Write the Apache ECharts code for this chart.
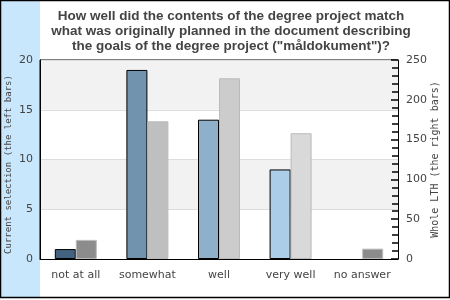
<!DOCTYPE html>
<html><head><meta charset="utf-8">
<script src="https://cdn.jsdelivr.net/npm/echarts@6/dist/echarts.min.js"></script>
<style>html,body{margin:0;padding:0;background:#fff}#c{width:450px;height:300px}</style>
</head><body><div id="c"></div>
<script>
const categories = ['not at all', 'somewhat', 'well', 'very well', 'no answer'];
const currentSelection = [1, 19, 14, 9, 0];
const wholeLTH = [24, 173, 227, 158, 13];
const leftTicks = [0, 5, 10, 15, 20];
const rightTicks = [0, 50, 100, 150, 200, 250];

const leftColors = ['#43627f', '#7293ae', '#8fb0cb', '#abcde8', '#c6dcef'];
const rightColors = ['#8c8c8c', '#bfbfbf', '#cccccc', '#d9d9d9', '#8c8c8c'];

const chart = echarts.init(document.getElementById('c'), null, {renderer: 'canvas'});
const labelColor = '#444';
chart.setOption({
  animation: false,
  backgroundColor: '#fff',
  graphic: [
    {type: 'rect', z: -10, shape: {x: 1, y: 1, width: 39, height: 296}, style: {fill: '#c8e6fc'}, silent: true},
    {type: 'rect', z: 100, shape: {x: 0.5, y: 0.5, width: 449, height: 297}, style: {fill: 'none', stroke: '#000', lineWidth: 1.5}, silent: true}
  ],
  title: {
    text: 'How well did the contents of the degree project match\nwhat was originally planned in the document describing\nthe goals of the degree project ("måldokument")?',
    left: 226, top: 4, textAlign: 'center',
    textStyle: {fontFamily: 'Liberation Sans', fontWeight: 'bold', fontSize: 13.5, lineHeight: 15, color: '#444'}
  },
  grid: {left: 40, right: 52, top: 60, bottom: 41, outerBoundsMode: 'none', containLabel: false, show: true, borderColor: '#000', borderWidth: 1, backgroundColor: 'transparent'},
  xAxis: {
    type: 'category', data: categories, z: 6,
    axisLine: {lineStyle: {color: '#000'}},
    axisTick: {show: false},
    axisLabel: {color: labelColor, fontFamily: 'DejaVu Sans', fontSize: 11, margin: 11, interval: 0}
  },
  yAxis: [
    {
      type: 'value', min: leftTicks[0], max: leftTicks[leftTicks.length - 1], interval: 5, z: 0,
      name: 'Current selection (the left bars)', nameLocation: 'middle', nameGap: 27, nameMoveOverlap: false,
      nameTextStyle: {fontFamily: 'DejaVu Sans Mono', fontSize: 9, color: labelColor, padding: [0, 10, 0, 0]},
      axisLine: {show: true, lineStyle: {color: '#000'}},
      axisTick: {show: false},
      axisLabel: {color: labelColor, fontFamily: 'DejaVu Sans', fontSize: 11, margin: 7},
      splitLine: {show: true, lineStyle: {color: '#dddddd'}},
      splitArea: {show: true, areaStyle: {color: ['#ffffff', '#f2f2f2']}}
    },
    {
      type: 'value', min: rightTicks[0], max: rightTicks[rightTicks.length - 1], interval: 50, z: 10,
      position: 'right',
      name: 'Whole LTH (the right bars)', nameLocation: 'middle', nameGap: 32, nameRotate: 90, nameMoveOverlap: false,
      nameTextStyle: {fontFamily: 'DejaVu Sans Mono', fontSize: 10, color: labelColor},
      axisLine: {show: true, onZero: false, lineStyle: {color: '#000'}},
      axisTick: {show: true, inside: true, length: 7, lineStyle: {color: '#000', width: 1.5}},
      minorTick: {show: true, splitNumber: 5, length: 6, lineStyle: {color: '#000', width: 1.5}},
      axisLabel: {color: labelColor, fontFamily: 'DejaVu Sans', fontSize: 11, margin: 8},
      splitLine: {show: false}
    }
  ],
  series: [
    {
      type: 'bar', yAxisIndex: 0, barWidth: 21, barGap: '0%',
      data: currentSelection.map((v, i) => ({value: v, itemStyle: {color: leftColors[i], borderColor: '#000', borderWidth: v > 0 ? 1 : 0}}))
    },
    {
      type: 'bar', yAxisIndex: 1, barWidth: 21, barGap: '0%',
      data: wholeLTH.map((v, i) => ({value: v, itemStyle: {color: rightColors[i], borderColor: '#bbbbbb', borderWidth: 1}}))
    }
  ]
});
</script></body></html>
